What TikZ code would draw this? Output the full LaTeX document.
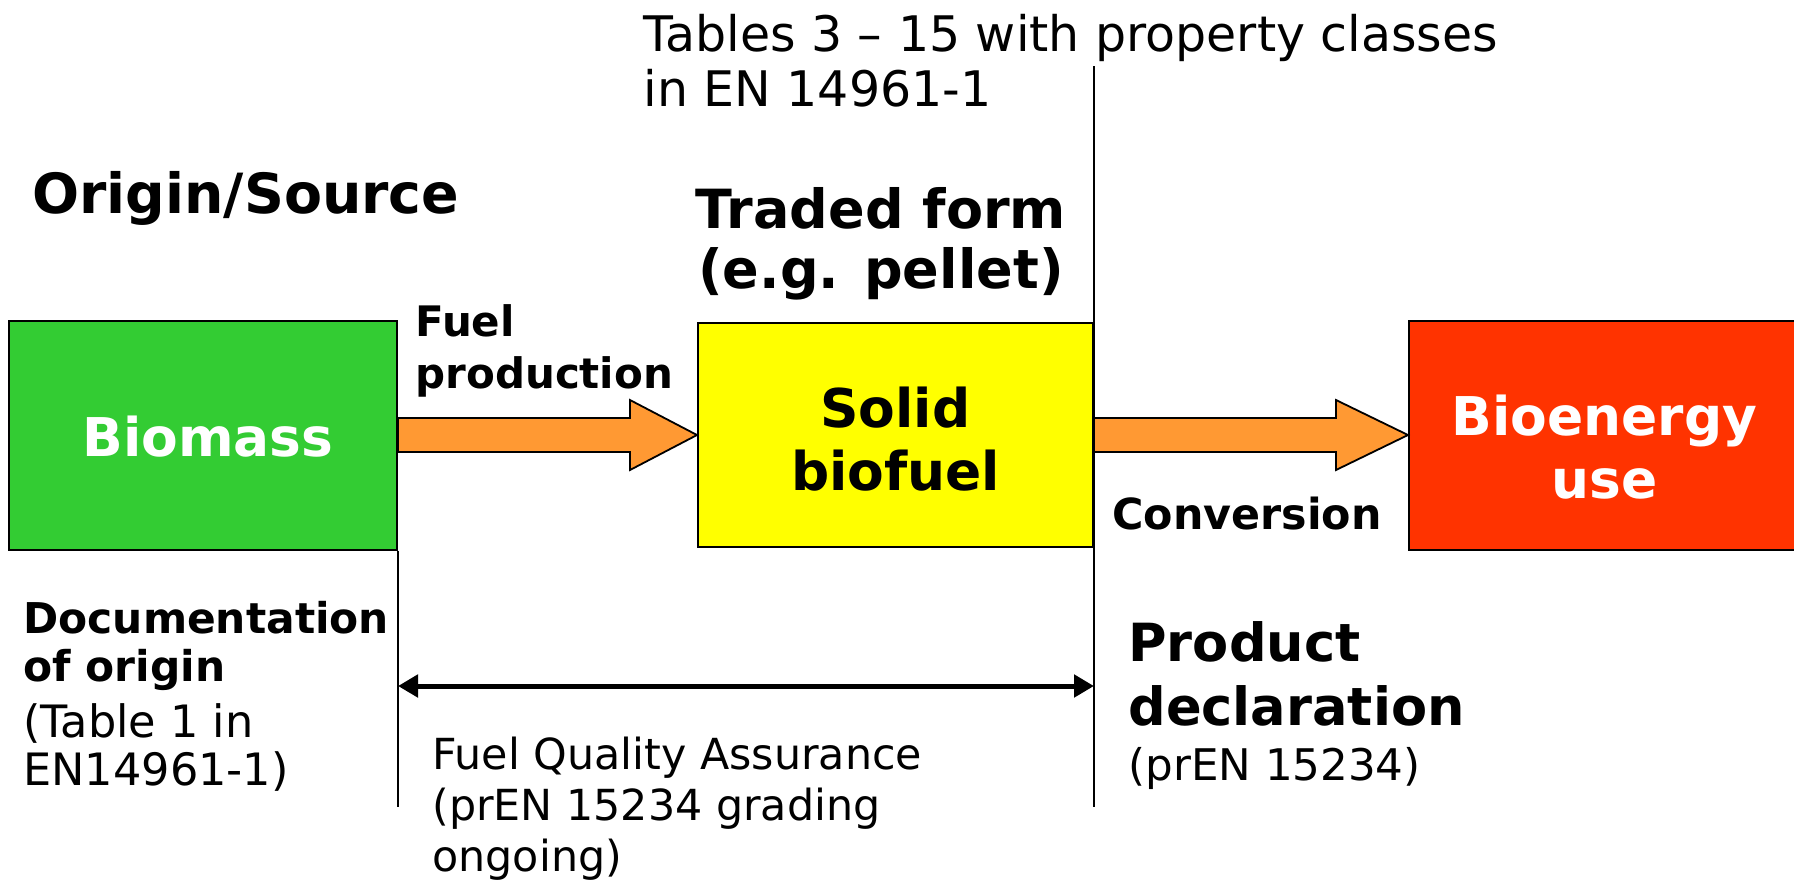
\documentclass[tikz,border=0pt]{standalone}
\usepackage{fontspec}
\setmainfont{DejaVu Sans}
\usetikzlibrary{arrows.meta,calc}

\definecolor{biogreen}{HTML}{33CC33}
\definecolor{fuelyellow}{HTML}{FFFF00}
\definecolor{usered}{HTML}{FF3300}
\definecolor{flowor}{HTML}{FF9933}

\tikzset{
  box/.style={draw=black, line width=1pt, inner sep=0pt, align=center,
    font=\bfseries\fontsize{26.7}{31.5}\selectfont},
  boxtext/.style={inner sep=0pt, align=center, font=\bfseries\fontsize{26.7}{31.5}\selectfont},
  lbl/.style={inner sep=0pt, align=left, anchor=west},
  blockarrow/.style={fill=flowor, draw=black, line width=0.9pt, line join=miter},
  vline/.style={line width=0.8pt},
  dimarrow/.style={line width=2.5pt, {Triangle[length=10pt,width=11pt]}-{Triangle[length=10pt,width=11pt]}},
}

\begin{document}
\begin{tikzpicture}[x=0.5pt,y=-0.5pt]
\useasboundingbox (0,0) rectangle (1794,880);
\clip (0,0) rectangle (1794,880);

% process boxes
\node[box, fill=biogreen, minimum width=194pt, minimum height=114.5pt] (bio) at (203,435) {};
\node[box, fill=fuelyellow, minimum width=197.5pt, minimum height=112pt] (sol) at (895.5,435) {};
\node[box, fill=usered, minimum width=195.5pt, minimum height=114.5pt] (use) at (1604.5,435) {};
\node[boxtext, text=white] (biotxt) at ($(bio.center)+(5,2)$) {Biomass};
\node[boxtext] (soltxt) at ($(sol.center)+(0,4)$) {Solid\\biofuel};
\node[boxtext, text=white] (usetxt) at ($(use.center)+(0,12)$) {Bioenergy\\use};

% helper coordinates for the guide lines
\coordinate (topend) at (0,66);
\coordinate (lowend) at (0,807);
\coordinate (dimy) at (0,686);

% guide lines
\draw[vline] (bio.south east) -- (bio.south east |- lowend);
\draw[vline] (sol.east |- topend) -- (sol.east |- lowend);

% block arrows between the boxes
\filldraw[blockarrow] ($(bio.east)+(0,-17)$) -- ($(sol.west)+(-67,-17)$) -- ($(sol.west)+(-67,-35)$)
  -- (sol.west) -- ($(sol.west)+(-67,35)$) -- ($(sol.west)+(-67,17)$) -- ($(bio.east)+(0,17)$) -- cycle;
\filldraw[blockarrow] ($(sol.east)+(0,-17)$) -- ($(use.west)+(-72,-17)$) -- ($(use.west)+(-72,-35)$)
  -- (use.west) -- ($(use.west)+(-72,35)$) -- ($(use.west)+(-72,17)$) -- ($(sol.east)+(0,17)$) -- cycle;

% quality assurance span
\draw[dimarrow] (bio.east |- dimy) -- (sol.east |- dimy);

% labels
\node[lbl, font=\fontsize{24.5}{27.5}\selectfont] (tables) at (643,61) {Tables 3 – 15 with property classes\\in EN 14961-1};
\node[lbl, font=\bfseries\fontsize{27.7}{30}\selectfont] (origin) at (32,198) {Origin/Source};
\node[inner sep=0pt, align=center, font=\bfseries\fontsize{27}{30}\selectfont] (traded) at (881,244) {Traded form\\(e.g. pellet)};
\node[lbl, font=\bfseries\fontsize{21}{26}\selectfont] (fuelprod) at (415,351) {Fuel\\production};
\node[lbl, font=\bfseries\fontsize{21.4}{25}\selectfont] (conv) at (1112,514) {Conversion};
\node[lbl, font=\bfseries\fontsize{21.2}{24}\selectfont] (docorig) at (23,646) {Documentation\\of origin};
\node[lbl, font=\fontsize{22.3}{24}\selectfont] (docref) at (23,747) {(Table 1 in\\EN14961-1)};
\node[lbl, font=\bfseries\fontsize{26.3}{32}\selectfont] (proddecl) at (1128,674) {Product\\declaration};
\node[lbl, font=\fontsize{21.8}{25}\selectfont] (prodref) at (1128,768) {(prEN 15234)};
\node[lbl, font=\fontsize{21.4}{25.5}\selectfont] (fqa) at (432,809) {Fuel Quality Assurance\\(prEN 15234 grading\\ongoing)};
\end{tikzpicture}
\end{document}
